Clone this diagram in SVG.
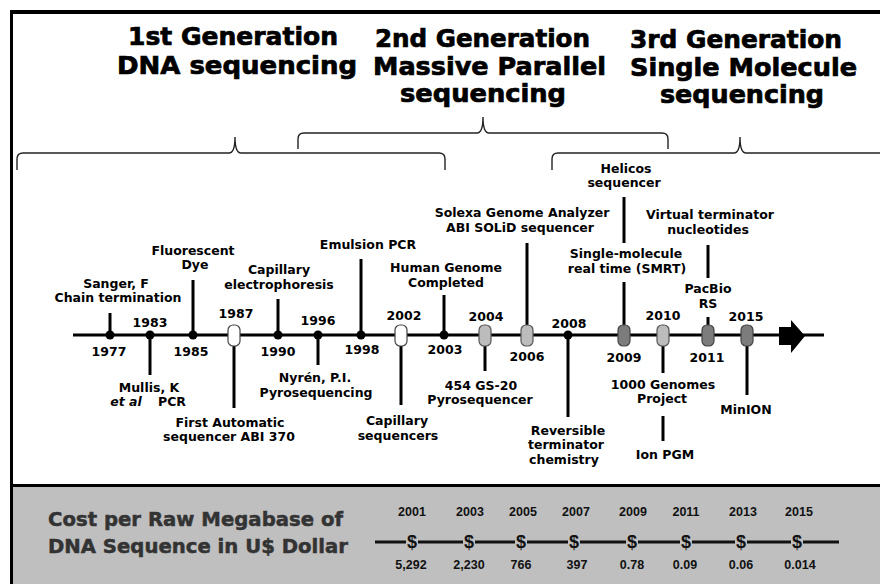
<svg xmlns="http://www.w3.org/2000/svg" width="880" height="584" viewBox="0 0 880 584">
<defs>
<style>
.t{font-family:"DejaVu Sans",Verdana,sans-serif;font-weight:bold;font-size:24px;fill:#000;stroke:#000;stroke-width:0.7}
.l{font-family:"DejaVu Sans",Verdana,sans-serif;font-weight:bold;font-size:12.5px;fill:#000;text-anchor:middle}
.y{font-family:"DejaVu Sans",Verdana,sans-serif;font-weight:bold;font-size:12.5px;fill:#000;text-anchor:middle}
.c{font-family:"DejaVu Sans",Verdana,sans-serif;font-weight:bold;font-size:20px;fill:#333;stroke:#333;stroke-width:0.5}
.cy{font-family:"Liberation Sans",Arial,sans-serif;font-weight:bold;font-size:12.5px;fill:#111;text-anchor:middle}
.d{font-family:"Liberation Sans",Arial,sans-serif;font-weight:bold;font-size:18px;fill:#111;text-anchor:middle}
.stem{stroke:#000;stroke-width:3;fill:none}
.dot{fill:#000}
.p0{fill:#fff;stroke:#444;stroke-width:1.2}
.p1{fill:#bcbcbc;stroke:#555;stroke-width:1.2}
.p2{fill:#7c7c7c;stroke:#444;stroke-width:1.2}
.br{stroke:#222;stroke-width:1.4;fill:none}
.frame{stroke:#000;fill:none}
</style>
</defs>
<rect x="0" y="0" width="880" height="584" fill="#fff"/>
<rect x="12" y="487" width="868" height="97" fill="#bfbfbf"/>
<line class="frame" x1="10" y1="12" x2="880" y2="12" stroke-width="4"/>
<line class="frame" x1="11.5" y1="10" x2="11.5" y2="584" stroke-width="3"/>
<line class="frame" x1="10" y1="485.5" x2="880" y2="485.5" stroke-width="3"/>

<g id="titles">
<text class="t" x="128" y="45" textLength="210" lengthAdjust="spacingAndGlyphs">1st Generation</text>
<text class="t" x="117" y="74" textLength="240" lengthAdjust="spacingAndGlyphs">DNA sequencing</text>
<text class="t" x="375" y="47" textLength="215" lengthAdjust="spacingAndGlyphs">2nd Generation</text>
<text class="t" x="373" y="75" textLength="233" lengthAdjust="spacingAndGlyphs">Massive Parallel</text>
<text class="t" x="400" y="102" textLength="166" lengthAdjust="spacingAndGlyphs">sequencing</text>
<text class="t" x="630" y="48" textLength="212" lengthAdjust="spacingAndGlyphs">3rd Generation</text>
<text class="t" x="630" y="76" textLength="227" lengthAdjust="spacingAndGlyphs">Single Molecule</text>
<text class="t" x="660" y="103" textLength="164" lengthAdjust="spacingAndGlyphs">sequencing</text>
</g>

<g id="brackets">
<path class="br" d="M17,170 L17,159 Q17,153 23,153 L229,153 Q235,153 235,137 Q235,153 241,153 L439,153 Q445,153 445,159 L445,170"/>
<path class="br" d="M298,149 L298,139 Q298,133 304,133 L477,133 Q483,133 483,117 Q483,133 489,133 L662,133 Q668,133 668,139 L668,149"/>
<path class="br" d="M552,170 L552,159 Q552,153 558,153 L734,153 Q740,153 740,137 Q740,153 746,153 L885,153"/>
</g>

<g id="connectors">
<line class="stem" x1="73" y1="335" x2="824" y2="335"/>
<polygon points="779,327 791,327 791,320 805,336 791,353 791,345 779,345" fill="#000"/>
<line class="stem" x1="110" y1="313" x2="110" y2="335"/>
<line class="stem" x1="150" y1="335" x2="150" y2="375"/>
<line class="stem" x1="193" y1="280" x2="193" y2="335"/>
<line class="stem" x1="234" y1="346" x2="234" y2="408"/>
<line class="stem" x1="278" y1="299" x2="278" y2="335"/>
<line class="stem" x1="318" y1="335" x2="318" y2="365"/>
<line class="stem" x1="361" y1="259" x2="361" y2="335"/>
<line class="stem" x1="401" y1="346" x2="401" y2="405"/>
<line class="stem" x1="444" y1="295" x2="444" y2="335"/>
<line class="stem" x1="485" y1="346" x2="485" y2="371"/>
<line class="stem" x1="527" y1="243" x2="527" y2="325"/>
<line class="stem" x1="568" y1="335" x2="568" y2="417"/>
<line class="stem" x1="624" y1="282" x2="624" y2="325"/>
<line class="stem" x1="624" y1="197" x2="624" y2="243"/>
<line class="stem" x1="663" y1="346" x2="663" y2="373"/>
<line class="stem" x1="663" y1="416" x2="663" y2="441"/>
<line class="stem" x1="708" y1="317" x2="708" y2="325"/>
<line class="stem" x1="708" y1="245" x2="708" y2="278"/>
<line class="stem" x1="747" y1="346" x2="747" y2="395"/>
</g>

<g id="n1977"><circle class="dot" cx="110" cy="335" r="4.5"/><text class="l" x="116" y="288">Sanger, F</text><text class="l" x="118" y="302">Chain termination</text><text class="y" x="109" y="356">1977</text></g>
<g id="n1983"><circle class="dot" cx="150" cy="335" r="4.5"/><text class="y" x="150" y="327">1983</text><text class="l" x="149" y="392">Mullis, K</text><text class="l" x="126" y="406" font-style="italic">et al</text><text class="l" x="172" y="406">PCR</text></g>
<g id="n1985"><circle class="dot" cx="193" cy="335" r="4.5"/><text class="l" x="193" y="255">Fluorescent</text><text class="l" x="195" y="269">Dye</text><text class="y" x="191" y="356">1985</text></g>
<g id="n1987"><rect class="p0" x="228" y="325" width="12" height="21" rx="5"/><text class="y" x="236" y="318">1987</text><text class="l" x="230" y="427">First Automatic</text><text class="l" x="229" y="441">sequencer ABI 370</text></g>
<g id="n1990"><circle class="dot" cx="278" cy="335" r="4.5"/><text class="l" x="279" y="274">Capillary</text><text class="l" x="279" y="289">electrophoresis</text><text class="y" x="278" y="356">1990</text></g>
<g id="n1996"><circle class="dot" cx="318" cy="335" r="4.5"/><text class="y" x="318" y="325">1996</text><text class="l" x="315" y="382">Nyrén, P.I.</text><text class="l" x="316" y="397">Pyrosequencing</text></g>
<g id="n1998"><circle class="dot" cx="361" cy="335" r="4.5"/><text class="l" x="368" y="249">Emulsion PCR</text><text class="y" x="362" y="354">1998</text></g>
<g id="n2002"><rect class="p0" x="395" y="325" width="12" height="21" rx="5"/><text class="y" x="404" y="320">2002</text><text class="l" x="397" y="425">Capillary</text><text class="l" x="398" y="440">sequencers</text></g>
<g id="n2003"><circle class="dot" cx="444" cy="335" r="4.5"/><text class="l" x="446" y="272">Human Genome</text><text class="l" x="446" y="287">Completed</text><text class="y" x="445" y="354">2003</text></g>
<g id="n2004"><rect class="p1" x="479" y="325" width="12" height="21" rx="5"/><text class="y" x="486" y="321">2004</text><text class="l" x="481" y="390">454 GS-20</text><text class="l" x="480" y="404">Pyrosequencer</text></g>
<g id="n2006"><rect class="p1" x="521" y="325" width="12" height="21" rx="5"/><text class="l" x="522" y="217">Solexa Genome Analyzer</text><text class="l" x="520" y="232">ABI SOLiD sequencer</text><text class="y" x="527" y="361">2006</text></g>
<g id="n2008"><circle class="dot" cx="568" cy="335" r="4.5"/><text class="y" x="569" y="328">2008</text><text class="l" x="568" y="435">Reversible</text><text class="l" x="566" y="449">terminator</text><text class="l" x="564" y="464">chemistry</text></g>
<g id="n2009"><rect class="p2" x="618" y="325" width="12" height="21" rx="5"/><text class="l" x="626" y="173">Helicos</text><text class="l" x="624" y="187">sequencer</text><text class="l" x="626" y="258">Single-molecule</text><text class="l" x="627" y="273">real time (SMRT)</text><text class="y" x="624" y="362">2009</text></g>
<g id="n2010"><rect class="p1" x="657" y="325" width="12" height="21" rx="5"/><text class="y" x="663" y="320">2010</text><text class="l" x="663" y="389">1000 Genomes</text><text class="l" x="662" y="403">Project</text><text class="l" x="665" y="459">Ion PGM</text></g>
<g id="n2011"><rect class="p2" x="702" y="325" width="12" height="21" rx="5"/><text class="l" x="710" y="219">Virtual terminator</text><text class="l" x="708" y="234">nucleotides</text><text class="l" x="708" y="293">PacBio</text><text class="l" x="708" y="308">RS</text><text class="y" x="707" y="362">2011</text></g>
<g id="n2015"><rect class="p2" x="741" y="325" width="12" height="21" rx="5"/><text class="y" x="746" y="321">2015</text><text class="l" x="746" y="414">MinION</text></g>

<g id="cost">
<text class="c" x="48" y="526" textLength="295" lengthAdjust="spacingAndGlyphs">Cost per Raw Megabase of</text>
<text class="c" x="48" y="553" textLength="300" lengthAdjust="spacingAndGlyphs">DNA Sequence in U$ Dollar</text>
<g stroke="#111" stroke-width="3">
<line x1="375" y1="542" x2="406" y2="542"/>
<line x1="418" y1="542" x2="463" y2="542"/>
<line x1="475" y1="542" x2="515" y2="542"/>
<line x1="527" y1="542" x2="568" y2="542"/>
<line x1="580" y1="542" x2="626" y2="542"/>
<line x1="638" y1="542" x2="680" y2="542"/>
<line x1="692" y1="542" x2="735" y2="542"/>
<line x1="747" y1="542" x2="791" y2="542"/>
<line x1="803" y1="542" x2="839" y2="542"/>
</g>
<text class="d" x="412" y="548">$</text><text class="d" x="469" y="548">$</text><text class="d" x="521" y="548">$</text><text class="d" x="574" y="548">$</text>
<text class="d" x="632" y="548">$</text><text class="d" x="686" y="548">$</text><text class="d" x="741" y="548">$</text><text class="d" x="797" y="548">$</text>
<text class="cy" x="412" y="516">2001</text><text class="cy" x="470" y="516">2003</text><text class="cy" x="523" y="516">2005</text><text class="cy" x="576" y="516">2007</text>
<text class="cy" x="633" y="516">2009</text><text class="cy" x="686" y="516">2011</text><text class="cy" x="743" y="516">2013</text><text class="cy" x="799" y="516">2015</text>
<text class="cy" x="411" y="569">5,292</text><text class="cy" x="469" y="569">2,230</text><text class="cy" x="521" y="569">766</text><text class="cy" x="577" y="569">397</text>
<text class="cy" x="632" y="569">0.78</text><text class="cy" x="685" y="569">0.09</text><text class="cy" x="741" y="569">0.06</text><text class="cy" x="800" y="569">0.014</text>
</g>
</svg>
